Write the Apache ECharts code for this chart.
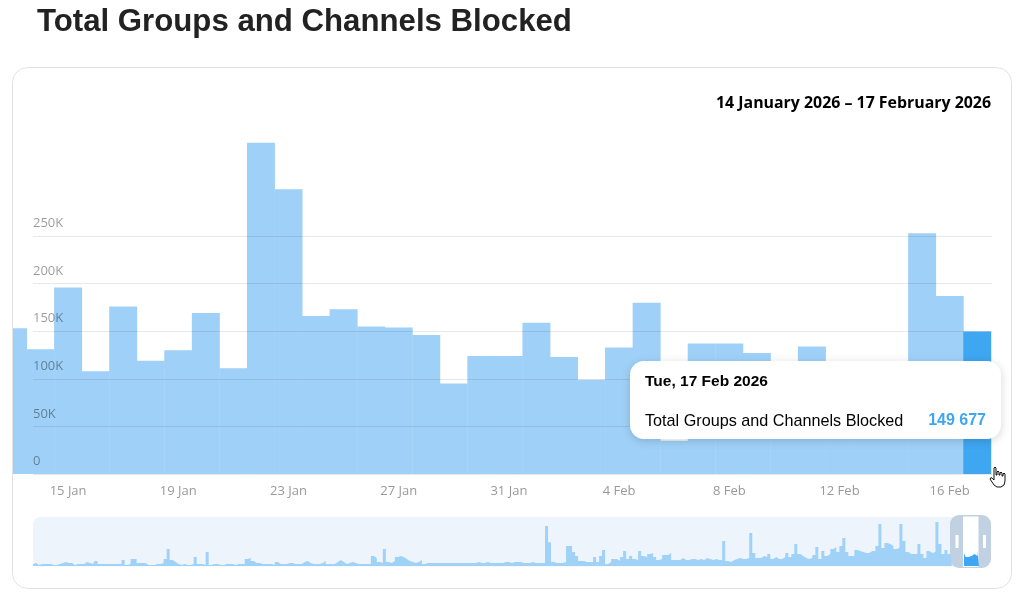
<!DOCTYPE html>
<html>
<head>
<meta charset="utf-8">
<title>Total Groups and Channels Blocked</title>
<script src="https://cdn.jsdelivr.net/npm/echarts@6/dist/echarts.min.js"></script>
<style>
html, body { margin: 0; padding: 0; background: #fff; }
#chart { width: 1026px; height: 597px; }
</style>
</head>
<body>
<div id="chart"></div>
<script>
var days = ['13 Jan', '14 Jan', '15 Jan', '16 Jan', '17 Jan', '18 Jan', '19 Jan', '20 Jan', '21 Jan',
	'22 Jan', '23 Jan', '24 Jan', '25 Jan', '26 Jan', '27 Jan', '28 Jan', '29 Jan', '30 Jan', '31 Jan',
	'1 Feb', '2 Feb', '3 Feb', '4 Feb', '5 Feb', '6 Feb', '7 Feb', '8 Feb', '9 Feb', '10 Feb', '11 Feb',
	'12 Feb', '13 Feb', '14 Feb', '15 Feb', '16 Feb', '17 Feb'];
var blocked = [153000, 131000, 196000, 108000, 176000, 119000, 130000, 169000, 111000,
	348000, 299000, 166000, 173000, 155000, 154000, 146000, 95000, 124000, 124000,
	159000, 123000, 99000, 133000, 180000, 35000, 137000, 137000, 127000, 110000, 134000,
	105000, 105000, 110000, 253000, 187000, 149677];
var labelDays = [2, 6, 10, 14, 18, 22, 26, 30, 34];
var yMax = 350000;
var yTickMax = 250000;
var yStep = 50000;

// overview strip in thousands, one value per 3px column
var overview = [
	38, 57, 19, 38, 38, 38, 38, 19, 19, 38, 57, 76, 57, 57, 19, 38, 38, 38, 76, 57, 38, 95, 38, 38, 38, 38, 38, 38,
	38, 38, 114, 19, 38, 133, 133, 57, 57, 57, 19, 19, 19, 38, 38, 57, 133, 323, 114, 76, 38, 19, 38, 19, 19, 38, 171, 38,
	38, 19, 266, 19, 38, 38, 19, 19, 38, 38, 38, 19, 38, 38, 38, 133, 152, 95, 57, 57, 38, 38, 38, 38, 19, 76, 38, 38,
	38, 57, 57, 38, 38, 38, 76, 95, 57, 38, 38, 38, 57, 95, 38, 38, 38, 76, 114, 76, 38, 57, 76, 57, 38, 38, 38, 38,
	38, 190, 152, 76, 57, 323, 76, 57, 95, 171, 190, 171, 133, 95, 76, 57, 76, 114, 38, 57,
	57, 57, 57, 57, 57, 57, 57, 57, 57, 57, 57, 57, 57, 57, 57, 57, 76, 57, 57, 76, 57, 57, 57, 57, 57, 76, 76, 57, 76, 76, 76, 57, 57, 57, 76, 57, 57, 57, 57,
	760, 450, 76, 57, 57, 57, 76, 380, 380, 266, 190, 95, 95, 76, 76, 76, 171, 76, 190, 304, 38, 76, 133, 133, 95, 171, 285, 133, 190, 133, 114, 285, 190, 171, 228, 247, 171,
	114, 133, 209, 209, 247, 114, 114, 114, 152, 114, 114, 133, 133, 114, 133, 114,
	152, 133, 114, 133, 114, 114, 475, 95, 76, 114, 133, 152, 133, 133, 152, 627, 247, 152, 152, 190, 171, 228, 133, 171, 133, 133, 171, 247, 171, 228, 418, 228, 190, 152, 133, 152, 209, 361, 133, 285, 190, 228, 323, 361, 266, 380, 532, 266, 190, 190,
	304, 285, 266, 247, 247, 285, 285, 380, 798, 342, 437, 418, 380, 323, 342, 798, 475, 266, 228, 228, 228, 418, 228, 152, 285, 247, 266, 836, 418, 228, 304, 228, 247
];
var overviewWindow = [247, 171, 190, 228, 190, 285];
var windowStartColumn = 310;
var overviewColumns = 319;

var el = document.getElementById('chart');
var chart = echarts.init(el);

var barData = blocked.map(function (v, i) {
	if (i == blocked.length - 1) {
		return { value: [i, v], itemStyle: { color: '#3fa6f2' } };
	}
	return { value: [i, v] };
});

var option = {
	animation: false,
	title: [{
		text: 'Total Groups and Channels Blocked',
		left: 32, top: 2,
		textStyle: { fontFamily: 'Liberation Sans', fontSize: 31.2, fontWeight: 'bold', color: '#222' }
	}, {
		text: '14 January 2026 – 17 February 2026',
		right: 30, top: 90,
		textStyle: { fontFamily: 'Open Sans', fontSize: 15.9, fontWeight: 'bold', color: '#000' }
	}],
	grid: [
		{ left: 13, right: 35, top: 140.8, height: 333.2 },
		{ left: 33, right: 34, top: 236, height: 238 },
		{ left: 33, right: 35, top: 516, height: 50 }
	],
	xAxis: [{
		gridIndex: 0, type: 'value', min: 0, max: 35.5,
		splitLine: { show: false }, axisLine: { show: false }, axisTick: { show: false },
		axisLabel: {
			customValues: labelDays,
			formatter: function (v) { return days[v]; },
			margin: 11,
			fontFamily: 'Open Sans', fontSize: 13, color: '#999'
		}
	}, {
		gridIndex: 1, type: 'value', min: 0, max: 1, show: false
	}, {
		gridIndex: 2, type: 'value', min: 0, max: overviewColumns, show: false
	}],
	yAxis: [{
		gridIndex: 0, type: 'value', min: 0, max: yMax, show: false
	}, {
		gridIndex: 1, type: 'value', min: 0, max: yTickMax, interval: yStep, z: 5,
		axisLine: { show: false }, axisTick: { show: false },
		splitLine: { lineStyle: { color: 'rgba(0,0,0,0.09)', width: 1 } },
		axisLabel: {
			inside: true,
			margin: 0,
			align: 'left',
			verticalAlign: 'bottom',
			padding: [0, 0, 6, 0],
			fontFamily: 'Open Sans', fontSize: 13, color: 'rgba(0,0,0,0.4)',
			formatter: function (v) { return v == 0 ? '0' : (v / 1000) + 'K'; }
		}
	}, {
		gridIndex: 2, type: 'value', min: 0, max: 950, show: false
	}],
	tooltip: {
		trigger: 'item',
		alwaysShowContent: true,
		position: [630, 361],
		padding: 0,
		borderWidth: 0,
		backgroundColor: '#fff',
		transitionDuration: 0,
		extraCssText: 'border-radius:14px;box-shadow:0 2px 10px rgba(0,0,0,0.16);',
		formatter: function (p) {
			var v = String(p.value[1]).replace(/\B(?=(\d{3})+$)/g, ' ');
			return '<div style="width:371px;height:78px;box-sizing:border-box;padding:11px 15px 0 15px;font-family:\'Liberation Sans\';color:#000;">' +
				'<div style="font-size:15.5px;font-weight:bold;line-height:18px;">Tue, 17 Feb 2026</div>' +
				'<div style="display:flex;justify-content:space-between;font-size:16.2px;line-height:18px;margin-top:21px;">' +
				'<span>Total Groups and Channels Blocked</span>' +
				'<span style="font-weight:bold;font-size:16px;color:#3fa6f2;">' + v + '</span></div></div>';
		}
	},
	series: [{
		name: 'Total Groups and Channels Blocked',
		type: 'bar',
		xAxisIndex: 0, yAxisIndex: 0,
		// a little over the 27.5px day width, so neighbours overlap with no seam
		barWidth: 28,
		data: barData,
		itemStyle: { color: '#9fd1f8' },
		emphasis: { disabled: true }
	}, {
		type: 'line', step: 'middle', silent: true, showSymbol: false,
		xAxisIndex: 2, yAxisIndex: 2,
		data: overview.map(function (v, i) { return [i, v]; }),
		lineStyle: { width: 0 },
		areaStyle: { color: '#a0d2f8', opacity: 1 }
	}, {
		type: 'line', step: 'middle', silent: true, showSymbol: false,
		xAxisIndex: 2, yAxisIndex: 2,
		data: overviewWindow.map(function (v, i) { return [windowStartColumn + i, v]; }),
		lineStyle: { width: 0 },
		areaStyle: { color: '#3fa6f2', opacity: 1 }
	}],
	graphic: [
		{ type: 'rect', z: -5, shape: { x: 12.5, y: 67.5, width: 999, height: 521, r: 15 }, style: { fill: '#fff', stroke: '#e2e2e2', lineWidth: 1 } },
		{ type: 'rect', z: -4, shape: { x: 33, y: 517, width: 930, height: 49.5, r: [8, 0, 0, 8] }, style: { fill: '#edf4fb' } },
		{ type: 'rect', z: -3, shape: { x: 950, y: 515, width: 41, height: 53, r: 9 }, style: { fill: '#c1d1e1' } },
		{ type: 'rect', z: -2, shape: { x: 963, y: 516.5, width: 15.5, height: 50.5 }, style: { fill: '#fff' } },
		{ type: 'rect', z: -2, shape: { x: 955.5, y: 535, width: 3, height: 13 }, style: { fill: '#fff' } },
		{ type: 'rect', z: -2, shape: { x: 983, y: 535, width: 3, height: 13 }, style: { fill: '#fff' } },
		// the first bar is only half inside the card, bar clip does not cut it on a value axis
		{ type: 'rect', z: 3, shape: { x: 0, y: 130, width: 12, height: 350 }, style: { fill: '#fff' } },
		{ type: 'line', z: 3, shape: { x1: 12.5, y1: 130, x2: 12.5, y2: 480 }, style: { stroke: '#e2e2e2', lineWidth: 1 } },
		{
			type: 'polygon', z: 100, silent: true, x: 990, y: 467,
			shape: {
				points: [[4, 1], [5, 0], [6, 1], [6, 8], [7, 8], [7, 5], [8, 4], [9, 5], [9, 8], [10, 8], [10, 6], [11, 5], [12, 6], [12, 9],
					[13, 9], [13, 7], [14, 6], [15, 7], [15, 14], [14, 18], [11, 20], [7, 20], [4, 18], [0, 12], [1, 10.5], [3, 12], [4, 13]]
			},
			style: { fill: '#fff', stroke: '#111', lineWidth: 1 }
		}
	]
};
chart.setOption(option);
chart.dispatchAction({ type: 'showTip', seriesIndex: 0, dataIndex: blocked.length - 1 });
</script>
</body>
</html>
